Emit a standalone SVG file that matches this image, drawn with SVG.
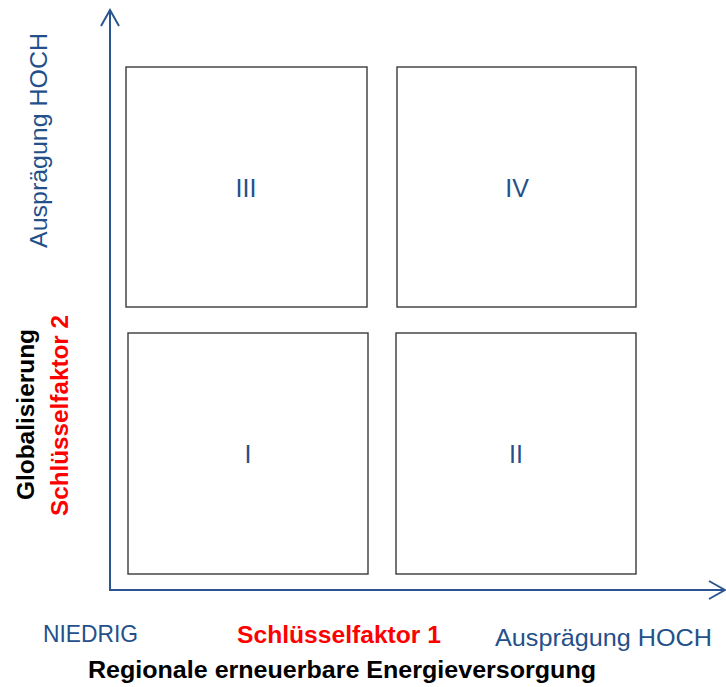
<svg xmlns="http://www.w3.org/2000/svg" width="726" height="687" viewBox="0 0 726 687">
<style>
.box{fill:#fff;stroke:#3a3a3a;stroke-width:1.4}
.num{font-family:"Liberation Sans",Arial,sans-serif;font-size:25px;fill:#24508A;text-anchor:middle}
.blue{font-family:"Liberation Sans",Arial,sans-serif;font-size:24px;fill:#24508A}
.red{font-family:"Liberation Sans",Arial,sans-serif;font-size:24px;font-weight:bold;fill:#FF0000}
.blk{font-family:"Liberation Sans",Arial,sans-serif;font-size:24px;font-weight:bold;fill:#000}
.axis{fill:none;stroke:#2A5590;stroke-width:2}
</style>
<rect width="726" height="687" fill="#fff"/>
<g id="connectors">
<polyline class="axis" points="110,11 110,590 724,590"/>
<polyline class="axis" points="101,26 110,10 119,26"/>
<polyline class="axis" points="709,581 725,590 709,599"/>
</g>
<g id="q3"><rect class="box" x="126" y="67" width="241" height="240"/><text class="num" x="246" y="197">III</text></g>
<g id="q4"><rect class="box" x="397" y="67" width="239" height="240"/><text class="num" x="517" y="197">IV</text></g>
<g id="q1"><rect class="box" x="128" y="333" width="240" height="241"/><text class="num" x="248" y="463">I</text></g>
<g id="q2"><rect class="box" x="396" y="333" width="240" height="241"/><text class="num" x="516" y="463">II</text></g>
<g id="labels">
<text class="blue" transform="translate(47,140.5) rotate(-90)" text-anchor="middle" textLength="215" lengthAdjust="spacingAndGlyphs">Ausprägung HOCH</text>
<text class="blk" transform="translate(34,414.5) rotate(-90)" text-anchor="middle" textLength="171" lengthAdjust="spacingAndGlyphs">Globalisierung</text>
<text class="red" transform="translate(68,415.5) rotate(-90)" text-anchor="middle" textLength="201" lengthAdjust="spacingAndGlyphs">Schlüsselfaktor 2</text>
<text class="blue" x="43" y="642" textLength="95" lengthAdjust="spacingAndGlyphs">NIEDRIG</text>
<text class="red" x="237" y="643" textLength="204" lengthAdjust="spacingAndGlyphs">Schlüsselfaktor 1</text>
<text class="blue" x="495" y="646" textLength="217" lengthAdjust="spacingAndGlyphs">Ausprägung HOCH</text>
<text class="blk" x="88" y="678" textLength="508" lengthAdjust="spacingAndGlyphs">Regionale erneuerbare Energieversorgung</text>
</g>
</svg>
